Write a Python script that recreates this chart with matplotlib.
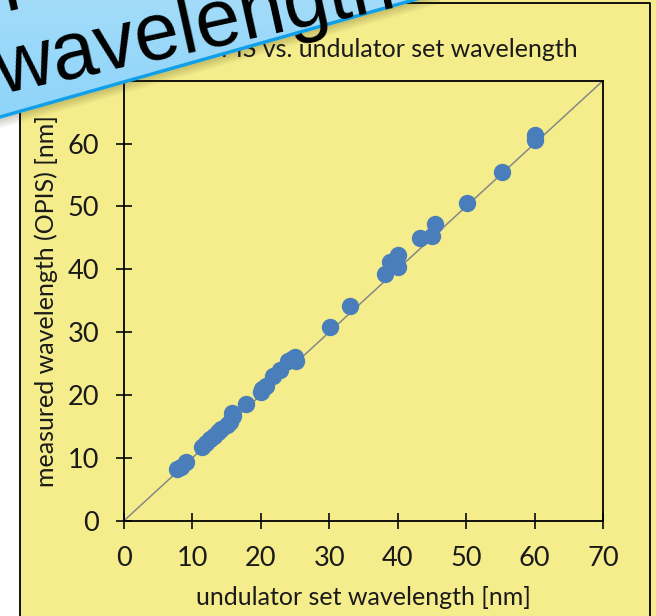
import numpy as np
import matplotlib
matplotlib.use("Agg")
import matplotlib.pyplot as plt
from matplotlib.patches import Polygon, Rectangle

# undulator set wavelength vs. wavelength measured by OPIS, both in nm
set_nm = [7.8, 8.3, 9.1, 11.4, 12.0, 12.6, 13.1, 13.7, 14.2, 15.0, 15.5, 16.0, 15.8,
          17.8, 20.0, 20.2, 20.8, 21.8, 22.8, 24.0, 24.6, 25.0, 25.2,
          30.1, 33.1, 38.2, 38.9, 40.1, 40.1, 43.3, 45.0, 45.5,
          50.1, 55.2, 60.0, 60.1]
meas_nm = [8.2, 8.6, 9.3, 11.8, 12.4, 13.0, 13.4, 14.1, 14.6, 15.3, 15.7, 16.6, 17.1,
           18.5, 20.4, 21.0, 21.5, 23.0, 24.0, 25.4, 25.8, 26.1, 25.4,
           30.8, 34.1, 39.3, 41.2, 42.2, 40.4, 44.9, 45.3, 47.2,
           50.5, 55.4, 60.6, 61.3]
ticks = [0, 10, 20, 30, 40, 50, 60, 70]

W, H = 656, 616
yellow = "#F5ED8C"
ink = "#1a1a1a"
plt.rcParams["font.family"] = ["Lato", "DejaVu Sans"]

fig = plt.figure(figsize=(W / 100, H / 100), dpi=100, facecolor=yellow)

# background: white margin, chart frame, title (all in pixel coordinates)
bg = fig.add_axes([0, 0, 1, 1], zorder=0)
bg.set_xlim(0, W)
bg.set_ylim(H, 0)
bg.axis("off")
bg.add_patch(Rectangle((0, 0), 20, H, color="white", lw=0))
bg.plot([20, 20, 650, 650], [H + 5, 3, 3, H + 5], color="black", lw=1.3)
bg.text(578, 57, "OPIS vs. undulator set wavelength", ha="right", va="baseline",
        fontsize=18, color=ink)

ax = fig.add_axes([124 / W, 1 - 520.7 / H, 479 / W, 440 / H], zorder=1)
ax.patch.set_alpha(0)
ax.plot([0, 70], [0, 70], color="#878787", lw=1.1, zorder=2)
ax.plot(set_nm, meas_nm, "o", ms=11.5, color="#4A7EBB", mec="#4A7EBB", zorder=3)
ax.set_xlim(0, 70)
ax.set_ylim(0, 70)
ax.set_xticks(ticks)
ax.set_yticks(ticks[:-1])
for s in ax.spines.values():
    s.set_linewidth(1.3)
ax.tick_params(direction="inout", length=12, width=1.3, labelsize=19.5, pad=12,
               colors=ink)
ax.set_xlabel("undulator set wavelength [nm]", fontsize=18, color=ink, labelpad=11)
ax.set_ylabel("measured wavelength (OPIS) [nm]", fontsize=18, color=ink, labelpad=7)

# callout banner across the top-left corner
ov = fig.add_axes([0, 0, 1, 1], zorder=5)
ov.set_xlim(0, W)
ov.set_ylim(H, 0)
ov.axis("off")
ang = 15.8
t = np.tan(np.radians(ang))
x0, x1 = -30, 440
y_edge = lambda x: 117 - t * x
for k in range(10):
    ov.plot([x0, x1], [y_edge(x0) + 2 + k, y_edge(x1) + 2 + k], color="#3a3000",
            alpha=0.12 * (10 - k) / 10, lw=1.5, solid_capstyle="butt")
band = Polygon([(x0, y_edge(x0)), (x1, y_edge(x1)), (x1, -300), (x0, -300)],
               closed=True, facecolor="none", edgecolor="none")
ov.add_patch(band)
grad = np.linspace(0, 1, 256)[:, None]
img = ov.imshow(grad, extent=(x0, x1, 135, -300), origin="upper", aspect="auto",
                cmap=matplotlib.colors.LinearSegmentedColormap.from_list(
                    "b", ["#D6EFFC", "#8BD3F9"]), interpolation="bilinear")
img.set_clip_path(band)
ov.plot([x0, x1], [y_edge(x0), y_edge(x1)], color="#11A0E8", lw=2.5)
ov.set_xlim(0, W)
ov.set_ylim(H, 0)
txt_ang = 12.5
ov.text(0, 94, "wavelength", rotation=txt_ang, rotation_mode="anchor", ha="left",
        va="baseline", fontsize=58, family="Liberation Sans", color="black")
ov.text(-60, 26, "for all settings", rotation=txt_ang, rotation_mode="anchor",
        ha="left", va="baseline", fontsize=58, family="Liberation Sans", color="black")

fig.savefig("out.png", dpi=100, facecolor=yellow)
